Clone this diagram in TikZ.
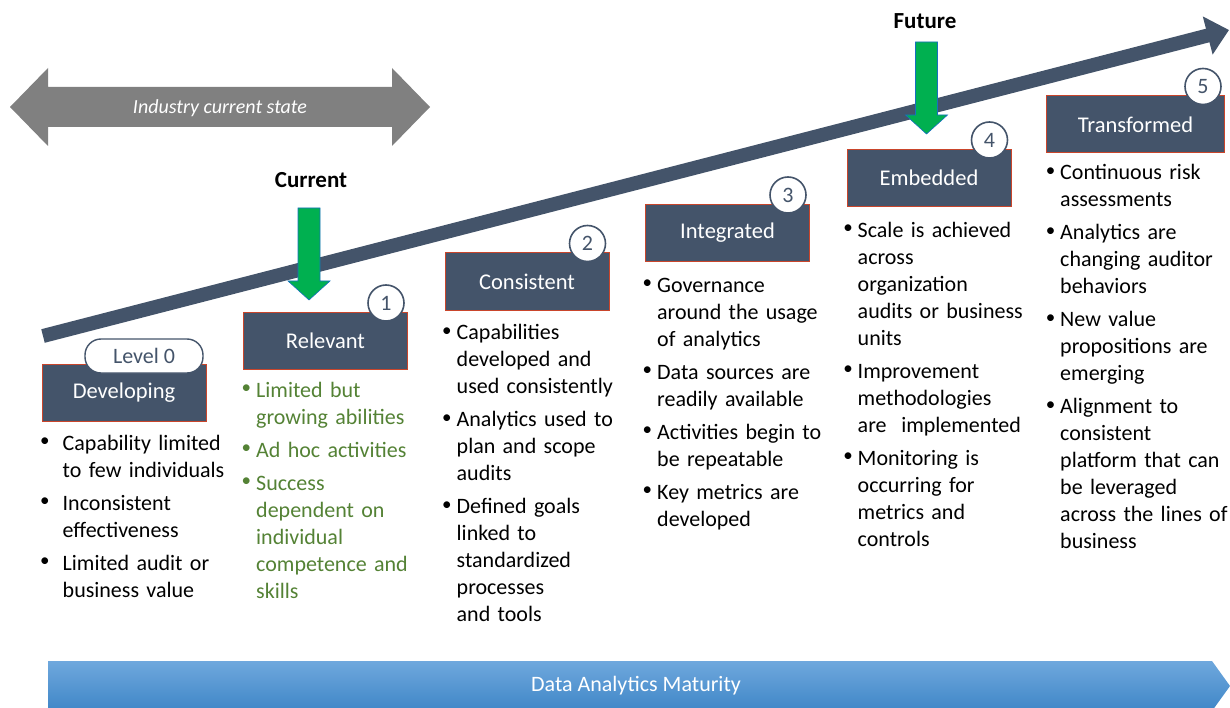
\documentclass[tikz,border=0pt]{standalone}
\usepackage{fontspec}
\setmainfont{Carlito}
\usetikzlibrary{arrows.meta,positioning}

\definecolor{slate}{HTML}{44546A}
\definecolor{rimred}{HTML}{C9452B}
\definecolor{leafgreen}{HTML}{548235}
\definecolor{gogreen}{HTML}{00B050}
\definecolor{barhi}{HTML}{6FA8DD}
\definecolor{barlo}{HTML}{3F86C7}

% bullet list used under every stage box
\newenvironment{pts}[1][7pt]{\raggedright
  \begin{list}{\llap{\raisebox{3.5pt}{\fontsize{19}{19}\selectfont\textbullet}}}{%
    \setlength{\leftmargin}{14pt}\setlength{\labelsep}{#1}%
    \setlength{\labelwidth}{6pt}\setlength{\itemsep}{6pt}%
    \setlength{\parsep}{0pt}\setlength{\topsep}{0pt}%
    \setlength{\partopsep}{0pt}\setlength{\itemindent}{0pt}}}%
  {\end{list}}

\begin{document}
\begin{tikzpicture}[x=1pt,y=-1pt,font=\fontsize{22}{27}\selectfont,
    stage/.style={draw=rimred,line width=1pt,fill=slate,text=white,
      minimum width=164pt,minimum height=57pt,font=\fontsize{22.5}{27}\selectfont},
    num/.style={circle,draw=slate,line width=1.6pt,fill=white,text=slate,
      minimum size=36pt,inner sep=0pt},
    notes/.style={anchor=north west,inner sep=0pt,text width=210pt},
    push/.style={fill=gogreen,draw=cyan!50!blue,line width=0.6pt}]
    \useasboundingbox (0,0) rectangle (1230,708);

    \fill[gray] (10,107) -- (48,68) -- (48,87) -- (392,87) -- (392,68) -- (430,107)
        -- (392,146) -- (392,127) -- (48,127) -- (48,146) -- cycle;
    \node[text=white,font=\fontsize{20}{24}\selectfont\itshape] (state) at (220,108) {Industry current state};

    \draw[slate,line width=14pt,-{Triangle[length=22pt,width=38pt]}] (43,336) -- (1229,30);

    \node[font=\fontsize{23}{27}\selectfont\bfseries] (cur) at (311,180) {Current};
    \node[font=\fontsize{23}{27}\selectfont\bfseries] (fut) at (925,21) {Future};
    \foreach \ax/\ay in {309/208,926.5/42}
        \filldraw[push] (\ax-11,\ay) -- (\ax+11,\ay) -- (\ax+11,\ay+73) -- (\ax+21,\ay+73)
            -- (\ax,\ay+92) -- (\ax-21,\ay+73) -- (\ax-11,\ay+73) -- cycle;

    \node[stage] (dev) at (124,393) {Developing};
    \node[stage] (rel) at (325.5,341) {Relevant};
    \node[stage] (con) at (527,281.5) {Consistent};
    \node[stage] (int) at (727.5,233) {Integrated};
    \node[stage] (emb) at (929,178) {Embedded};
    \node[stage,minimum width=178pt] (tra) at (1135.5,124.5) {Transformed};

    \node[draw=slate,line width=1.4pt,fill=white,rounded corners=16pt,minimum width=118pt,
        minimum height=34pt,text=slate] (lvl) at ([xshift=20pt,yshift=8pt]dev.north) {Level 0};
    \node[num] (n1) at ([xshift=-22pt,yshift=9pt]rel.north east) {1};
    \node[num] (n2) at ([xshift=-22pt,yshift=9pt]con.north east) {2};
    \node[num] (n3) at ([xshift=-22pt,yshift=9pt]int.north east) {3};
    \node[num] (n4) at ([xshift=-22pt,yshift=9pt]emb.north east) {4};
    \node[num] (n5) at ([xshift=-22pt,yshift=9pt]tra.north east) {5};

    \node[notes] (devtxt) at ([xshift=7pt,yshift=-1pt]dev.south west) {\begin{pts}[13pt]
        \item Capability limited\newline to few individuals
        \item Inconsistent\newline effectiveness
        \item Limited audit or\newline business value
    \end{pts}};
    \node[notes,text=leafgreen] (reltxt) at ([xshift=-1pt,yshift=0pt]rel.south west) {\begin{pts}[5pt]
        \item Limited but\newline growing abilities
        \item Ad hoc activities
        \item Success\newline dependent on\newline individual\newline competence and\newline skills
    \end{pts}};
    \node[notes] (contxt) at ([xshift=-2pt,yshift=-2pt]con.south west) {\begin{pts}[5pt]
        \item Capabilities\newline developed and\newline used consistently
        \item Analytics used to\newline plan and scope\newline audits
        \item Defined goals\newline linked to\newline standardized\newline processes\newline and tools
    \end{pts}};
    \node[notes] (inttxt) at ([xshift=-2pt,yshift=-3pt]int.south west) {\begin{pts}[5pt]
        \item Governance\newline around the usage\newline of analytics
        \item Data sources are\newline readily available
        \item Activities begin to\newline be repeatable
        \item Key metrics are\newline developed
    \end{pts}};
    \node[notes] (embtxt) at ([xshift=-3pt,yshift=-3pt]emb.south west) {\begin{pts}[5pt]
        \item Scale is achieved\newline across\newline organization\newline audits or business\newline units
        \item Improvement\newline methodologies\newline are\ \ implemented
        \item Monitoring is\newline occurring for\newline metrics and\newline controls
    \end{pts}};
    \node[notes] (tratxt) at ([xshift=0pt,yshift=1pt]tra.south west) {\begin{pts}[5pt]
        \item Continuous risk\newline assessments
        \item Analytics are\newline changing auditor\newline behaviors
        \item New value\newline propositions are\newline emerging
        \item Alignment to\newline consistent\newline platform that can\newline be leveraged\newline across the lines of\newline business
    \end{pts}};

    \shade[top color=barhi,bottom color=barlo] (48,661) -- (1212,661) -- (1230,686)
        -- (1212,711) -- (48,711) -- cycle;
    \node[text=white] (mat) at (636,686) {Data Analytics Maturity};
\end{tikzpicture}
\end{document}
